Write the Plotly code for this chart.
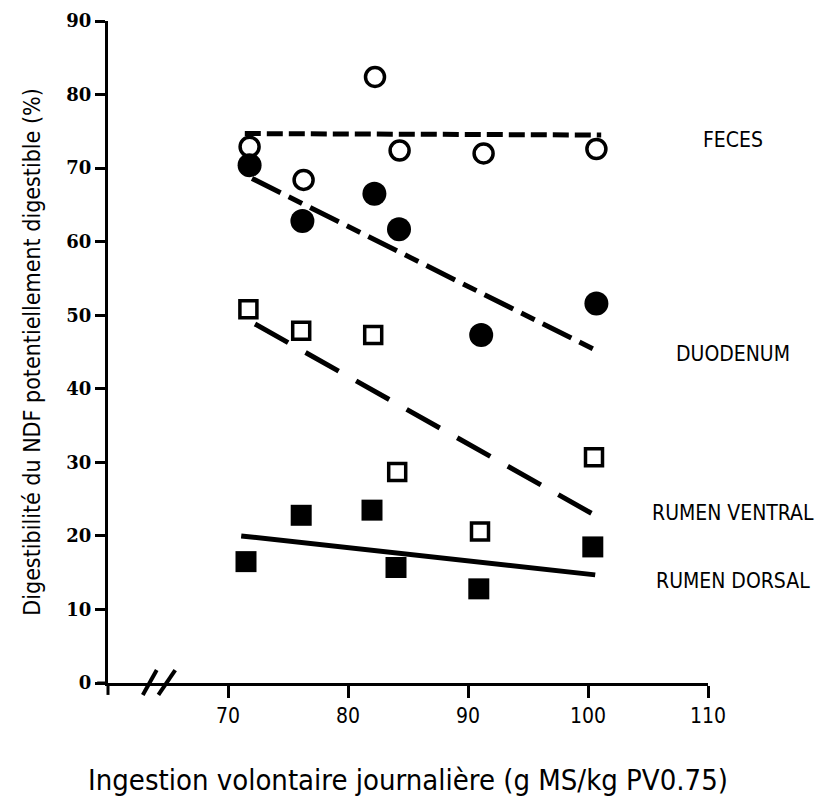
import plotly.graph_objects as go

# ---- data ----
feces_x = [71.8, 76.3, 82.25, 84.3, 91.3, 100.7]
feces_y = [72.9, 68.4, 82.4, 72.4, 72.0, 72.6]

duod_x = [71.8, 76.2, 82.2, 84.25, 91.1, 100.7]
duod_y = [70.4, 62.8, 66.5, 61.7, 47.3, 51.6]

ventral_x = [71.7, 76.1, 82.1, 84.1, 91.0, 100.5]
ventral_y = [50.8, 47.9, 47.3, 28.7, 20.6, 30.7]

dorsal_x = [71.5, 76.1, 82.0, 84.0, 90.9, 100.4]
dorsal_y = [16.5, 22.8, 23.5, 15.7, 12.8, 18.5]

# regression line end points
feces_fit_x = [71.4, 101.1]
feces_fit_y = [74.7, 74.5]
duod_fit_x = [72.0, 100.7]
duod_fit_y = [68.6, 45.2]
ventral_fit_x = [72.25, 100.8]
ventral_fit_y = [48.8, 22.6]
dorsal_fit_x = [71.1, 100.6]
dorsal_fit_y = [20.0, 14.7]

labels = ["FECES", "DUODENUM", "RUMEN VENTRAL", "RUMEN DORSAL"]
label_y = [73.8, 44.7, 23.1, 13.9]

x_ticks = [70, 80, 90, 100, 110]
y_ticks = [0, 10, 20, 30, 40, 50, 60, 70, 80, 90]

NARROW = "Liberation Sans Narrow, Arial Narrow, DejaVu Sans Condensed, Liberation Sans, sans-serif"
BLACK = "black"

fig = go.Figure()

# fitted lines
fig.add_trace(go.Scatter(x=feces_fit_x, y=feces_fit_y, mode="lines",
                         line=dict(color=BLACK, width=5, dash="16px,6px"), showlegend=False))
fig.add_trace(go.Scatter(x=duod_fit_x, y=duod_fit_y, mode="lines",
                         line=dict(color=BLACK, width=5, dash="32px,9px,15px,9px"), showlegend=False))
fig.add_trace(go.Scatter(x=ventral_fit_x, y=ventral_fit_y, mode="lines",
                         line=dict(color=BLACK, width=5, dash="38px,20px"), showlegend=False))
fig.add_trace(go.Scatter(x=dorsal_fit_x, y=dorsal_fit_y, mode="lines",
                         line=dict(color=BLACK, width=5), showlegend=False))

# points
fig.add_trace(go.Scatter(x=feces_x, y=feces_y, mode="markers", name="FECES",
                         marker=dict(symbol="circle", size=19, color="white",
                                     line=dict(color=BLACK, width=3.5)), showlegend=False))
fig.add_trace(go.Scatter(x=duod_x, y=duod_y, mode="markers", name="DUODENUM",
                         marker=dict(symbol="circle", size=24, color=BLACK,
                                     line=dict(width=0)), showlegend=False))
fig.add_trace(go.Scatter(x=ventral_x, y=ventral_y, mode="markers", name="RUMEN VENTRAL",
                         marker=dict(symbol="square", size=17, color="white",
                                     line=dict(color=BLACK, width=3.5)), showlegend=False))
fig.add_trace(go.Scatter(x=dorsal_x, y=dorsal_y, mode="markers", name="RUMEN DORSAL",
                         marker=dict(symbol="square", size=21, color=BLACK,
                                     line=dict(width=0)), showlegend=False))

# series labels on the right
for txt, yv in zip(labels, label_y):
    fig.add_annotation(x=1.042, xref="paper", y=yv, yref="y", text=txt,
                       showarrow=False, xanchor="center", yanchor="middle",
                       font=dict(family=NARROW, size=21, color=BLACK))

# axis break marks
for x0, x1 in [(62.9, 64.06), (64.2, 65.6)]:
    fig.add_shape(type="line", xref="x", yref="paper", x0=x0, x1=x1,
                  y0=-0.018, y1=0.0195, line=dict(color=BLACK, width=4))
# small axis overhangs at the origin
fig.add_shape(type="line", xref="paper", yref="paper", x0=-0.018, x1=0, y0=0, y1=0,
              line=dict(color=BLACK, width=3))
fig.add_shape(type="line", xref="paper", yref="paper", x0=0, x1=0, y0=-0.018, y1=0,
              line=dict(color=BLACK, width=3))

fig.update_layout(
    width=824, height=808,
    margin=dict(l=100, r=124, t=13, b=133),
    paper_bgcolor="white", plot_bgcolor="white",
    xaxis=dict(range=[60, 110], tickvals=x_ticks, ticks="outside", ticklen=12, tickwidth=3,
               tickcolor=BLACK, showline=True, linewidth=3, linecolor=BLACK,
               showgrid=False, zeroline=False, automargin=False, ticklabeloverflow="allow",
               tickfont=dict(family=NARROW, size=21, color=BLACK),
               title=dict(text="Ingestion volontaire journalière (g MS/kg PV0.75)",
                          font=dict(family=NARROW, size=29, color=BLACK), standoff=43)),
    yaxis=dict(range=[0, 90], tickvals=y_ticks, ticks="outside", ticklen=10, tickwidth=3,
               tickcolor=BLACK, showline=True, linewidth=3, linecolor=BLACK,
               showgrid=False, zeroline=False, automargin=False, ticklabeloverflow="allow",
               tickfont=dict(family="DejaVu Serif, serif", size=18, color=BLACK, weight="bold"),
               title=dict(text="Digestibilité du NDF potentiellement digestible (%)",
                          font=dict(family=NARROW, size=23, color=BLACK), standoff=20)),
)

fig.write_html("out.html")
